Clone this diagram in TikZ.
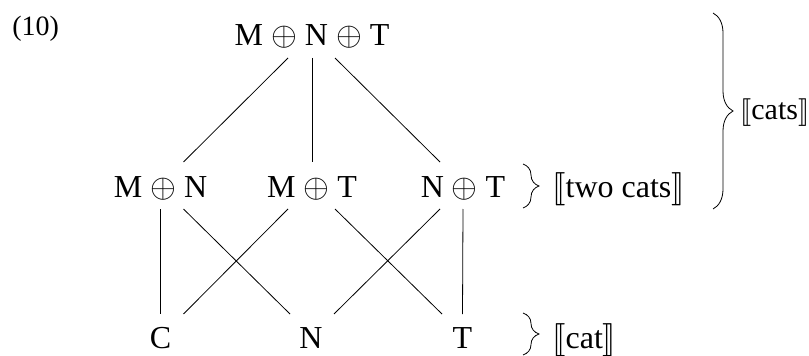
\documentclass[tikz,border=0pt]{standalone}
\usepackage{fontspec}
\usepackage{stmaryrd}
\setmainfont{Liberation Serif}
\usetikzlibrary{calc,decorations.pathreplacing}
\begin{document}
\begin{tikzpicture}[x=0.75pt,y=-0.75pt,
  lbl/.style={anchor=base,inner sep=0pt,font=\fontsize{24}{29}\selectfont},
  sem/.style={anchor=base west,inner sep=0pt,font=\fontsize{24}{29}\selectfont},
  edge/.style={line width=0.6pt},
  brc/.style={line width=0.6pt,decorate,decoration={brace,amplitude=#1}}]
\useasboundingbox (0,0) rectangle (809,356);
% example number
\node[sem,font=\fontsize{21}{25}\selectfont] (num) at (12,36) {(10)};
% lattice nodes
\node[lbl] (top) at (312,46) {M $\oplus$ N $\oplus$ T};
\node[lbl] (mn) at (160.5,197) {M $\oplus$ N};
\node[lbl] (mt) at (312,197) {M $\oplus$ T};
\node[lbl] (nt) at (463,197) {N $\oplus$ T};
\node[lbl] (c) at (160.5,348) {C};
\node[lbl] (n) at (311,348) {N};
\node[lbl] (t) at (462.5,348) {T};
% connectors top -> middle
\draw[edge] ($(top.base)+(-24,12)$) -- ($(mn.base)+(23,-35)$);
\draw[edge] ($(top.base)+(0,12)$) -- ($(mt.base)+(0,-35)$);
\draw[edge] ($(top.base)+(23,12)$) -- ($(nt.base)+(-23,-35)$);
% connectors middle -> bottom
\draw[edge] ($(mn.base)+(0,12)$) -- ($(c.base)+(0,-34)$);
\draw[edge] ($(mn.base)+(23,12)$) -- ($(n.base)+(-21,-34)$);
\draw[edge] ($(mt.base)+(-24,12)$) -- ($(c.base)+(23,-34)$);
\draw[edge] ($(mt.base)+(23,12)$) -- ($(t.base)+(-20.5,-34)$);
\draw[edge] ($(nt.base)+(-23,12)$) -- ($(n.base)+(23,-34)$);
\draw[edge] ($(nt.base)+(0,12)$) -- ($(t.base)+(0,-34)$);
% braces
\coordinate (b1a) at (523,164);
\coordinate (b1b) at (523,208);
\coordinate (b2a) at (523,313);
\coordinate (b2b) at (523,355);
\coordinate (b3a) at (713,13);
\coordinate (b3b) at (713,209);
\draw[brc=12] (b1a) -- (b1b);
\draw[brc=12] (b2a) -- (b2b);
\draw[brc=15] (b3a) -- (b3b);
% semantic labels
\node[sem] (two) at (552,197) {$\llbracket$two cats$\rrbracket$};
\node[sem] (cat) at (552,348) {$\llbracket$cat$\rrbracket$};
\node[sem,font=\fontsize{22.5}{27}\selectfont] (cats) at (740,120) {$\llbracket$cats$\rrbracket$};
\end{tikzpicture}
\end{document}
